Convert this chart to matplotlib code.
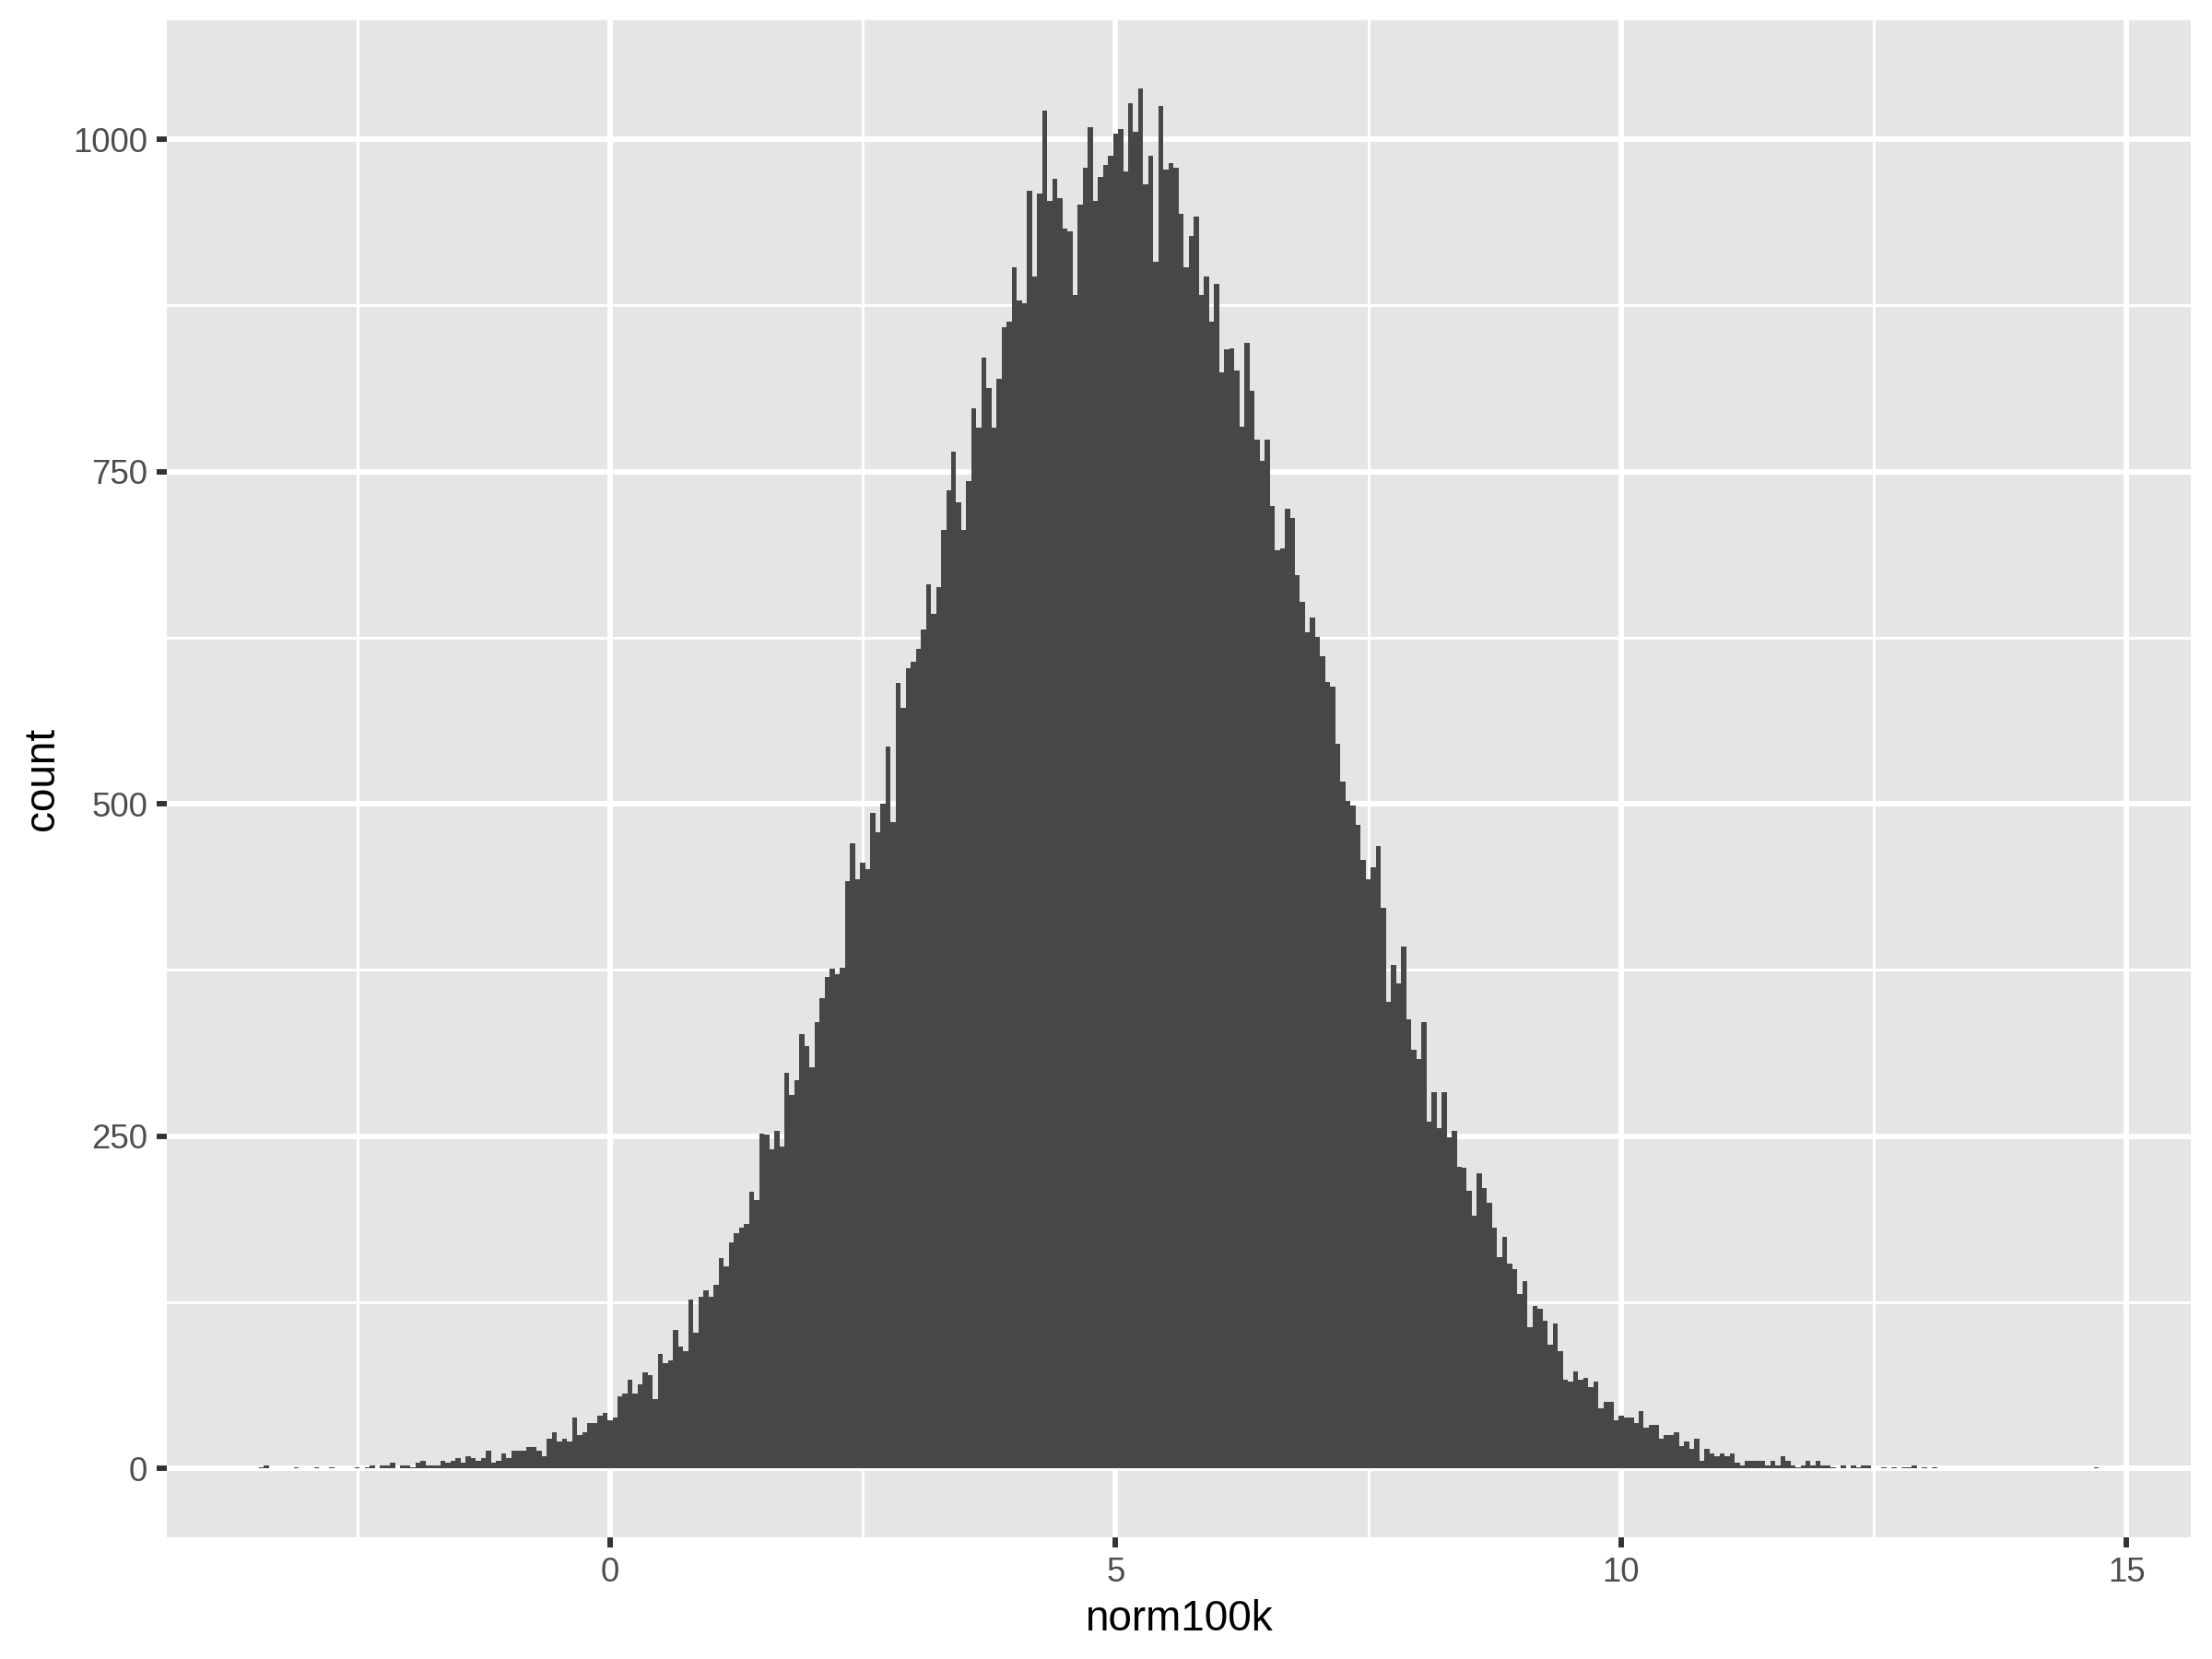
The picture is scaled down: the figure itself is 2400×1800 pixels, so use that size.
import numpy as np
import matplotlib
matplotlib.use('Agg')
import matplotlib.pyplot as plt

# _____________________________________________________________________________
#                               Dados
# _____________________________________________________________________________
# histograma de norm100k: largura de classe 0.05, primeira classe centrada em -3.45
BINWIDTH = 0.05
FIRST_CENTER = -3.45
counts = [
    1, 2, 0, 0, 0, 0, 0, 1, 0, 0,
    0, 1, 0, 0, 1, 0, 0, 0, 0, 1,
    0, 1, 2, 0, 2, 2, 4, 0, 2, 2,
    1, 4, 6, 2, 2, 2, 6, 4, 6, 8,
    4, 9, 8, 6, 8, 13, 4, 6, 11, 8,
    13, 13, 13, 16, 16, 13, 9, 22, 27, 20,
    22, 20, 38, 25, 27, 34, 34, 40, 42, 36,
    38, 54, 56, 67, 56, 63, 72, 70, 52, 86,
    79, 81, 104, 92, 88, 127, 102, 129, 134, 129,
    138, 158, 152, 170, 177, 181, 184, 208, 202, 252,
    251, 240, 254, 242, 298, 281, 292, 327, 318, 302,
    336, 354, 370, 376, 372, 377, 442, 470, 443, 456,
    451, 493, 479, 500, 543, 486, 591, 572, 602, 607,
    617, 631, 665, 643, 663, 706, 736, 765, 727, 706,
    743, 798, 783, 836, 813, 783, 820, 859, 863, 904,
    879, 877, 961, 897, 959, 1022, 954, 970, 956, 933,
    931, 883, 951, 979, 1009, 954, 972, 981, 988, 1004,
    1008, 976, 1027, 1006, 1038, 966, 988, 908, 1025, 977,
    982, 979, 944, 904, 927, 942, 883, 897, 863, 891,
    825, 842, 843, 826, 784, 847, 811, 774, 758, 774,
    724, 691, 692, 722, 715, 672, 652, 629, 640, 626,
    611, 592, 588, 545, 517, 502, 499, 484, 458, 443,
    452, 468, 422, 351, 379, 365, 393, 338, 315, 308,
    336, 261, 283, 256, 283, 249, 254, 227, 226, 209,
    190, 222, 211, 200, 181, 159, 174, 154, 150, 131,
    141, 106, 122, 120, 111, 93, 109, 88, 67, 65,
    73, 67, 68, 61, 65, 45, 50, 50, 36, 40,
    38, 38, 34, 43, 31, 33, 33, 22, 25, 25,
    27, 17, 20, 15, 22, 6, 15, 11, 9, 11,
    9, 11, 4, 2, 6, 6, 6, 6, 2, 6,
    2, 9, 6, 2, 1, 2, 6, 2, 6, 2,
    2, 1, 0, 2, 0, 2, 1, 2, 2, 0,
    0, 1, 0, 1, 0, 1, 1, 2, 0, 1,
    0, 1, 0, 0, 0, 0, 0, 0, 0, 0,
    0, 0, 0, 0, 0, 0, 0, 0, 0, 0,
    0, 0, 0, 0, 0, 0, 0, 0, 0, 0,
    0, 0, 0, 1,
]
xticks = [0, 5, 10, 15]
yticks = [0, 250, 500, 750, 1000]
xminor = [-2.5, 2.5, 7.5, 12.5]
yminor = [125, 375, 625, 875]

# _____________________________________________________________________________
#                               Cores / estilo
# _____________________________________________________________________________
BGPANEL = '#E5E5E5'
FILLBAR = '#474747'
TXTICK = '#4D4D4D'
TICKCOL = '#333333'
PT = 72.27 / 25.4  # ggplot .pt

plt.rcParams['font.family'] = ['Liberation Sans', 'DejaVu Sans']

counts = np.array(counts)
edges = FIRST_CENTER - BINWIDTH / 2 + BINWIDTH * np.arange(len(counts) + 1)

fig = plt.figure(figsize=(8, 6), dpi=300)
ax = fig.add_axes([0.0753, 0.0733, 0.9151, 0.9147])
ax.set_facecolor(BGPANEL)

# grade
for v in xminor:
    ax.axvline(v, color='white', linewidth=0.25 * PT, zorder=0.5)
for v in yminor:
    ax.axhline(v, color='white', linewidth=0.25 * PT, zorder=0.5)
for v in xticks:
    ax.axvline(v, color='white', linewidth=0.5 * PT, zorder=0.6)
for v in yticks:
    ax.axhline(v, color='white', linewidth=0.5 * PT, zorder=0.6)

ax.stairs(counts, edges, fill=True, color=FILLBAR, linewidth=0, zorder=2)

# limites com expansão de 5%
x0, x1 = edges[np.nonzero(counts)[0][0]], edges[np.nonzero(counts)[0][-1] + 1]
dx = (x1 - x0) * 0.05
ax.set_xlim(x0 - dx, x1 + dx)
ymax = counts.max()
ax.set_ylim(-ymax * 0.05, ymax * 1.05)

ax.set_xticks(xticks)
ax.set_yticks(yticks)
ax.tick_params(axis='both', colors=TICKCOL, width=0.5 * PT, length=2.75,
               labelsize=8.8, labelcolor=TXTICK, pad=2.2)
for s in ax.spines.values():
    s.set_visible(False)

ax.set_xlabel('norm100k', fontsize=11, color='black', labelpad=2.75)
ax.set_ylabel('count', fontsize=11, color='black', labelpad=2.75)

fig.savefig('out.png', dpi=300)
